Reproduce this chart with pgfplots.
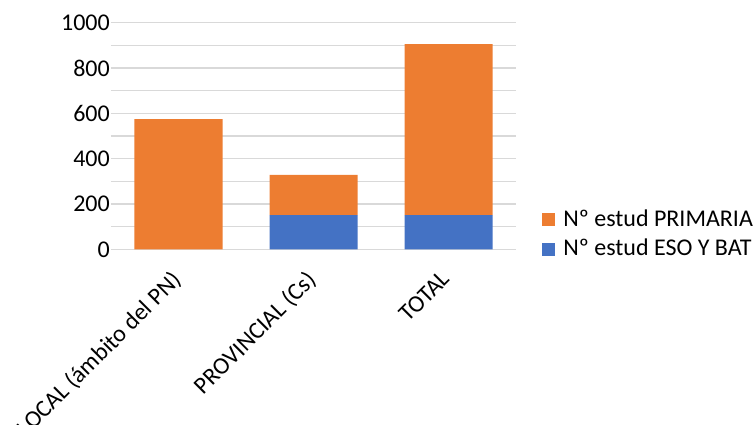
\documentclass[border=0pt]{standalone}
\usepackage{fontspec}
\setmainfont{Carlito}
\usepackage{pgfplots}
\pgfplotsset{compat=1.18}
\definecolor{xorange}{HTML}{ED7D31}
\definecolor{xblue}{HTML}{4472C4}
\definecolor{xgrid}{HTML}{D9D9D9}
\begin{document}
\fontsize{24bp}{28bp}\selectfont
\begin{tikzpicture}
\begin{axis}[
  at={(0,0)}, anchor=south west,
  scale only axis,
  width=405bp, height=226.6bp,
  ybar stacked, bar width=88bp,
  xmin=-0.5, xmax=2.5, ymin=0, ymax=1000,
  xtick=data,
  xticklabels={LOCAL (ámbito del PN),PROVINCIAL (Cs),TOTAL},
  xticklabel style={rotate=45, anchor=north east, inner sep=2bp, yshift=-6bp, xshift=-18bp},
  ytick={0,200,...,1000},
  minor ytick={100,300,...,900},
  yticklabel style={xshift=7bp},
  ymajorgrids, yminorgrids,
  major grid style={xgrid, line width=1.5bp},
  minor grid style={xgrid, line width=1.5bp},
  major tick length=0, minor tick length=0,
  axis line style={draw=none},
  /pgf/number format/assume math mode=true,
  /pgf/number format/1000 sep={},
  ticklabel style={font=\fontsize{24bp}{28bp}\selectfont},
  legend style={draw=none, fill=none, at={(1.057,0.065)}, anchor=west,
    font=\fontsize{24bp}{28bp}\selectfont, row sep=5bp,
    /tikz/every odd column/.append style={column sep=6bp}},
  legend cell align=left,
  reverse legend,
  legend image code/.code={\path[#1, draw=none] (0bp,-6.5bp) rectangle (13bp,6.5bp);},
]
\addplot[fill=xblue, draw=none] coordinates {(0,0) (1,151) (2,151)};
\addplot[fill=xorange, draw=none] coordinates {(0,575) (1,177) (2,754)};
\legend{Nº estud ESO Y BAT, Nº estud PRIMARIA}
\end{axis}
\pgfresetboundingbox
\path (-111bp,-175.7bp) rectangle (645bp,249.3bp);
\end{tikzpicture}
\end{document}
